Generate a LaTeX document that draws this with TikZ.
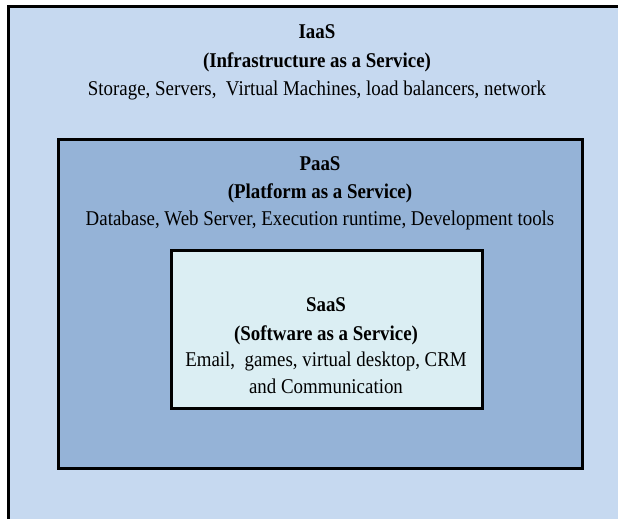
\documentclass[tikz,border=0pt]{standalone}
\usepackage{fontspec}
\setmainfont{Liberation Serif}[FakeStretch=0.9]
\definecolor{iaasfill}{RGB}{198,217,240}
\definecolor{paasfill}{RGB}{149,179,215}
\definecolor{saasfill}{RGB}{219,238,243}
\begin{document}
\begin{tikzpicture}[x=1pt,y=-1pt,
  layer/.style={draw=black, line width=3pt, inner sep=0pt, outer sep=0pt},
  txt/.style={anchor=base, inner sep=0pt, font=\fontsize{21}{24}\selectfont},
  head/.style={txt, font=\fontsize{21}{24}\selectfont\bfseries}]
\useasboundingbox (0,0) rectangle (618,519);
\begin{scope}
\clip (0,0) rectangle (618,519);
% outer layer runs past the right and bottom edges
\draw[layer, fill=iaasfill] (8,7) rectangle (660,560);
\end{scope}
\node[layer, fill=paasfill, minimum width=524pt, minimum height=329pt] (paas) at (320,303.5) {};
\node[layer, fill=saasfill, minimum width=311pt, minimum height=158pt] (saas) at (326.5,329) {};

\node[head] (iaas1) at (317,38) {IaaS};
\node[head] (iaas2) at (317,67) {(Infrastructure as a Service)};
\node[txt]  (iaas3) at (317,95) {Storage, Servers,\ \ Virtual Machines, load balancers, network};

\node[head] (paas1) at (320,170) {PaaS};
\node[head] (paas2) at (320,198) {(Platform as a Service)};
\node[txt]  (paas3) at (320,225) {Database, Web Server, Execution runtime, Development tools};

\node[head] (saas1) at (326,311) {SaaS};
\node[head] (saas2) at (326,340) {(Software as a Service)};
\node[txt]  (saas3) at (326,366) {Email,\ \ games, virtual desktop, CRM};
\node[txt]  (saas4) at (326,393) {and Communication};
\end{tikzpicture}
\end{document}
